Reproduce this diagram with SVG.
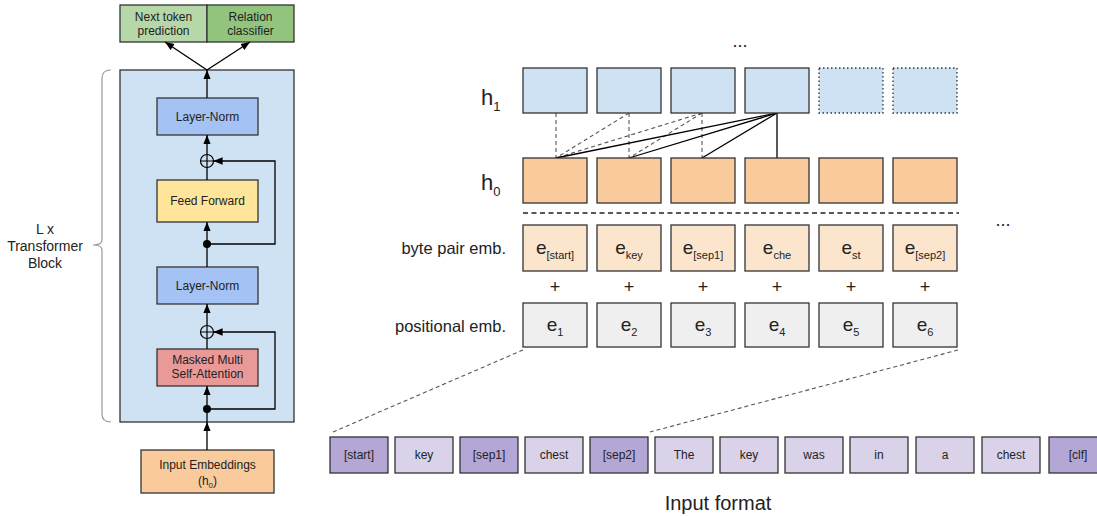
<svg xmlns="http://www.w3.org/2000/svg" width="1097" height="516" viewBox="0 0 1097 516">
<defs>
<marker id="ah" viewBox="0 0 10 10" refX="10" refY="5" markerWidth="7" markerHeight="7" orient="auto-start-reverse"><path d="M0,1 L10,5 L0,9 z" fill="#000"/></marker>
<style>
text{font-family:"Liberation Sans",Arial,sans-serif;fill:#222}
.bx{stroke:#333;stroke-width:1.3}
.t12{font-size:12px;text-anchor:middle}
.t11{font-size:12px;text-anchor:middle}
.ln{stroke:#000;stroke-width:1.3;fill:none}
.dsh{stroke:#555;stroke-width:1.1;stroke-dasharray:4,3;fill:none}
.e{font-size:19px;text-anchor:middle}
.sub{font-size:11px}
.lab{font-size:16.5px;text-anchor:end}
.pl{font-size:18px;text-anchor:middle}
</style>
</defs>
<rect width="1097" height="516" fill="#fff"/>

<g id="heads">
<rect class="bx" x="120" y="5" width="87" height="37" fill="#b6d7a8"/>
<text class="t12" x="163.5" y="21">Next token</text><text class="t12" x="163.5" y="35">prediction</text>
<rect class="bx" x="207" y="5" width="87" height="37" fill="#93c47d"/>
<text class="t12" x="250.5" y="21">Relation</text><text class="t12" x="250.5" y="35">classifier</text>
</g>
<g id="block">
<rect class="bx" x="120" y="70" width="174" height="352" fill="#cfe2f3"/>
</g>
<g id="bracket">
<path d="M111,70 Q102,70 102,78 L102,240 Q102,245 93,245 Q102,245 102,250 L102,414 Q102,422 111,422" fill="none" stroke="#999" stroke-width="1.2"/>
<text x="45" y="234" style="font-size:14px;text-anchor:middle">L x</text>
<text x="45" y="251" style="font-size:14px;text-anchor:middle">Transformer</text>
<text x="45" y="268" style="font-size:14px;text-anchor:middle">Block</text>
</g>
<g id="ln1"><rect class="bx" x="157" y="98" width="101" height="37" fill="#a4c2f4"/><text class="t12" x="207.5" y="121">Layer-Norm</text></g>
<g id="ff"><rect class="bx" x="157" y="180" width="101" height="42" fill="#ffe599"/><text class="t12" x="207.5" y="205">Feed Forward</text></g>
<g id="ln2"><rect class="bx" x="157" y="267" width="101" height="37" fill="#a4c2f4"/><text class="t12" x="207.5" y="290">Layer-Norm</text></g>
<g id="mmsa"><rect class="bx" x="157" y="349" width="101" height="37" fill="#ea9999"/><text class="t12" x="207.5" y="364">Masked Multi</text><text class="t12" x="207.5" y="378">Self-Attention</text></g>
<g id="inemb"><rect class="bx" x="141" y="450" width="133" height="43" fill="#f9cb9c"/><text class="t12" x="207.5" y="469">Input Embeddings</text><text class="t12" x="207.5" y="485">(h<tspan style="font-size:8px" dy="3">0</tspan><tspan dy="-3">)</tspan></text></g>
<g id="sum1"><circle cx="207" cy="161" r="6.5" fill="none" stroke="#000" stroke-width="1.2"/><path d="M200.5,161 H213.5 M207,154.5 V167.5" stroke="#000" stroke-width="1.2"/></g>
<g id="sum2"><circle cx="207" cy="332" r="6.5" fill="none" stroke="#000" stroke-width="1.2"/><path d="M200.5,332 H213.5 M207,325.5 V338.5" stroke="#000" stroke-width="1.2"/></g>
<g id="connectors">
<circle cx="207" cy="244" r="4" fill="#000"/>
<circle cx="207" cy="409" r="4" fill="#000"/>
<line class="ln" x1="207" y1="450" x2="207" y2="422" marker-end="url(#ah)"/>
<line class="ln" x1="207" y1="422" x2="207" y2="386" marker-end="url(#ah)"/>
<polyline class="ln" points="207,409 275,409 275,332 213.5,332" marker-end="url(#ah)"/>
<line class="ln" x1="207" y1="349" x2="207" y2="338.5"/>
<line class="ln" x1="207" y1="325.5" x2="207" y2="304" marker-end="url(#ah)"/>
<line class="ln" x1="207" y1="267" x2="207" y2="222" marker-end="url(#ah)"/>
<polyline class="ln" points="207,244 275,244 275,161 213.5,161" marker-end="url(#ah)"/>
<line class="ln" x1="207" y1="180" x2="207" y2="167.5"/>
<line class="ln" x1="207" y1="154.5" x2="207" y2="135" marker-end="url(#ah)"/>
<line class="ln" x1="207" y1="98" x2="207" y2="70" marker-end="url(#ah)"/>
<line class="ln" x1="207" y1="70" x2="165" y2="42" marker-end="url(#ah)"/>
<line class="ln" x1="207" y1="70" x2="250" y2="42" marker-end="url(#ah)"/>

<line class="dsh" x1="556" y1="113" x2="556" y2="158"/>
<line class="dsh" x1="629" y1="113" x2="556" y2="158"/>
<line class="dsh" x1="629" y1="113" x2="629" y2="158"/>
<line class="dsh" x1="702" y1="113" x2="556" y2="158"/>
<line class="dsh" x1="702" y1="113" x2="629" y2="158"/>
<line class="dsh" x1="702" y1="113" x2="702" y2="158"/>
<line class="ln" x1="777" y1="113" x2="556" y2="158" stroke-width="1.2"/>
<line class="ln" x1="777" y1="113" x2="629" y2="158" stroke-width="1.2"/>
<line class="ln" x1="777" y1="113" x2="702" y2="158" stroke-width="1.2"/>
<line class="ln" x1="777" y1="113" x2="777" y2="158" stroke-width="1.2" stroke="#444"/>
<line x1="523" y1="213" x2="959" y2="213" stroke="#222" stroke-width="1.3" stroke-dasharray="5,3.5"/>
<line class="dsh" x1="523" y1="350" x2="333" y2="432"/>
<line class="dsh" x1="958" y1="350" x2="650" y2="432"/>
</g>

<text x="481" y="105" style="font-size:22px">h<tspan style="font-size:13px" dy="6">1</tspan></text>
<text x="481" y="190" style="font-size:22px">h<tspan style="font-size:13px" dy="6">0</tspan></text>
<text class="lab" x="506" y="254">byte pair emb.</text>
<text class="lab" x="506" y="332">positional emb.</text>
<text x="740" y="47" style="font-size:18px;text-anchor:middle">...</text>
<text x="1003" y="226" style="font-size:18px;text-anchor:middle">...</text>

<g id="h1">
<rect class="bx" x="523" y="68" width="64" height="45" fill="#cfe2f3"/>
<rect class="bx" x="597" y="68" width="64" height="45" fill="#cfe2f3"/>
<rect class="bx" x="671" y="68" width="64" height="45" fill="#cfe2f3"/>
<rect class="bx" x="745" y="68" width="64" height="45" fill="#cfe2f3"/>
<rect x="819" y="68" width="64" height="45" fill="#cfe2f3" stroke="#333" stroke-width="1.3" stroke-dasharray="1.5,2.5"/>
<rect x="893" y="68" width="64" height="45" fill="#cfe2f3" stroke="#333" stroke-width="1.3" stroke-dasharray="1.5,2.5"/>
</g>
<g id="h0">
<rect class="bx" x="523" y="158" width="64" height="45" fill="#f9cb9c"/>
<rect class="bx" x="597" y="158" width="64" height="45" fill="#f9cb9c"/>
<rect class="bx" x="671" y="158" width="64" height="45" fill="#f9cb9c"/>
<rect class="bx" x="745" y="158" width="64" height="45" fill="#f9cb9c"/>
<rect class="bx" x="819" y="158" width="64" height="45" fill="#f9cb9c"/>
<rect class="bx" x="893" y="158" width="64" height="45" fill="#f9cb9c"/>
</g>
<g id="bpe">
<rect class="bx" x="523" y="225" width="64" height="46" fill="#fce5cd"/>
<rect class="bx" x="597" y="225" width="64" height="46" fill="#fce5cd"/>
<rect class="bx" x="671" y="225" width="64" height="46" fill="#fce5cd"/>
<rect class="bx" x="745" y="225" width="64" height="46" fill="#fce5cd"/>
<rect class="bx" x="819" y="225" width="64" height="46" fill="#fce5cd"/>
<rect class="bx" x="893" y="225" width="64" height="46" fill="#fce5cd"/>
<text class="e" x="555" y="254">e<tspan class="sub" dy="5">[start]</tspan></text>
<text class="e" x="629" y="254">e<tspan class="sub" dy="5">key</tspan></text>
<text class="e" x="703" y="254">e<tspan class="sub" dy="5">[sep1]</tspan></text>
<text class="e" x="777" y="254">e<tspan class="sub" dy="5">che</tspan></text>
<text class="e" x="851" y="254">e<tspan class="sub" dy="5">st</tspan></text>
<text class="e" x="925" y="254">e<tspan class="sub" dy="5">[sep2]</tspan></text>
</g>
<g id="plus">
<text class="pl" x="555" y="293">+</text>
<text class="pl" x="629" y="293">+</text>
<text class="pl" x="703" y="293">+</text>
<text class="pl" x="777" y="293">+</text>
<text class="pl" x="851" y="293">+</text>
<text class="pl" x="925" y="293">+</text>
</g>
<g id="pos">
<rect class="bx" x="523" y="303" width="64" height="44" fill="#efefef"/>
<rect class="bx" x="597" y="303" width="64" height="44" fill="#efefef"/>
<rect class="bx" x="671" y="303" width="64" height="44" fill="#efefef"/>
<rect class="bx" x="745" y="303" width="64" height="44" fill="#efefef"/>
<rect class="bx" x="819" y="303" width="64" height="44" fill="#efefef"/>
<rect class="bx" x="893" y="303" width="64" height="44" fill="#efefef"/>
<text class="e" x="555" y="331">e<tspan class="sub" dy="5">1</tspan></text>
<text class="e" x="629" y="331">e<tspan class="sub" dy="5">2</tspan></text>
<text class="e" x="703" y="331">e<tspan class="sub" dy="5">3</tspan></text>
<text class="e" x="777" y="331">e<tspan class="sub" dy="5">4</tspan></text>
<text class="e" x="851" y="331">e<tspan class="sub" dy="5">5</tspan></text>
<text class="e" x="925" y="331">e<tspan class="sub" dy="5">6</tspan></text>
</g>

<g id="tokens">
<rect class="bx" x="330" y="437" width="58" height="36" fill="#b4a7d6"/><text class="t11" x="359" y="459">[start]</text>
<rect class="bx" x="395" y="437" width="58" height="36" fill="#d9d2e9"/><text class="t11" x="424" y="459">key</text>
<rect class="bx" x="460" y="437" width="58" height="36" fill="#b4a7d6"/><text class="t11" x="489" y="459">[sep1]</text>
<rect class="bx" x="525" y="437" width="58" height="36" fill="#d9d2e9"/><text class="t11" x="554" y="459">chest</text>
<rect class="bx" x="590" y="437" width="58" height="36" fill="#b4a7d6"/><text class="t11" x="619" y="459">[sep2]</text>
<rect class="bx" x="655" y="437" width="58" height="36" fill="#d9d2e9"/><text class="t11" x="684" y="459">The</text>
<rect class="bx" x="720" y="437" width="58" height="36" fill="#d9d2e9"/><text class="t11" x="749" y="459">key</text>
<rect class="bx" x="785" y="437" width="58" height="36" fill="#d9d2e9"/><text class="t11" x="814" y="459">was</text>
<rect class="bx" x="850" y="437" width="58" height="36" fill="#d9d2e9"/><text class="t11" x="879" y="459">in</text>
<rect class="bx" x="916" y="437" width="58" height="36" fill="#d9d2e9"/><text class="t11" x="945" y="459">a</text>
<rect class="bx" x="982" y="437" width="58" height="36" fill="#d9d2e9"/><text class="t11" x="1011" y="459">chest</text>
<rect class="bx" x="1049" y="437" width="58" height="36" fill="#b4a7d6"/><text class="t11" x="1078" y="459">[clf]</text>
</g>
<text x="718" y="510" style="font-size:20px;text-anchor:middle">Input format</text>
</svg>
